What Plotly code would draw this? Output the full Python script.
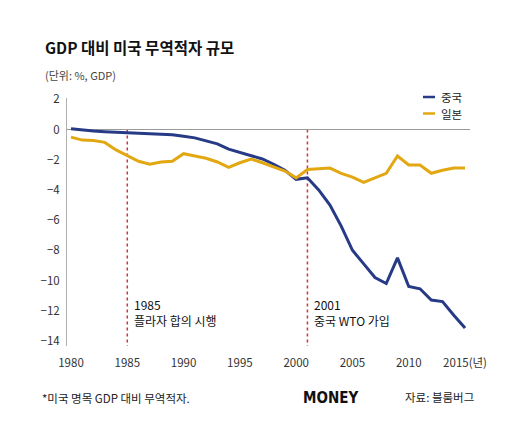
import plotly.graph_objects as go

years = list(range(1980, 2016))
china = [0.05, -0.05, -0.1, -0.15, -0.2, -0.22, -0.25, -0.28, -0.3, -0.35,
         -0.45, -0.55, -0.75, -0.95, -1.3, -1.5, -1.7, -1.95, -2.3, -2.7,
         -3.3, -3.2, -4.0, -5.0, -6.4, -8.0, -8.9, -9.8, -10.2, -8.5,
         -10.4, -10.55, -11.3, -11.4, -12.3, -13.15]
japan = [-0.5, -0.7, -0.73, -0.85, -1.35, -1.75, -2.1, -2.3, -2.15, -2.1,
         -1.6, -1.75, -1.9, -2.15, -2.5, -2.2, -1.95, -2.2, -2.5, -2.75,
         -3.2, -2.65, -2.6, -2.55, -2.9, -3.15, -3.5, -3.2, -2.9, -1.75,
         -2.35, -2.35, -2.9, -2.7, -2.55, -2.55]
series_names = ["중국", "일본"]
x_tick_vals = [1980, 1985, 1990, 1995, 2000, 2005, 2010, 2015]
x_tick_text = ["1980", "1985", "1990", "1995", "2000", "2005", "2010", "2015(년)"]
y_tick_vals = [2, 0, -2, -4, -6, -8, -10, -12, -14]
events = [(1985, "1985", "플라자 합의 시행"), (2001, "2001", "중국 WTO 가입")]

FONT = "Noto Sans CJK KR"
NAVY = "#263a86"
GOLD = "#e2a812"
Y_MIN, Y_MAX = -14.34, 2.09


def px(xr):
    """reference-pixel x -> paper fraction"""
    return (xr - 67) / 403


def py(yr):
    """reference-pixel y -> paper fraction"""
    return (346 - yr) / 248


fig = go.Figure()
colors = [NAVY, GOLD]
for name, vals, col in zip(series_names, [china, japan], colors):
    fig.add_trace(go.Scatter(x=years, y=vals, mode="lines", name=name,
                             line=dict(color=col, width=3), showlegend=False))

for yr, l1, l2 in events:
    fig.add_shape(type="line", xref="x", yref="y", x0=yr, x1=yr, y0=0, y1=Y_MIN,
                  line=dict(color="#d4303c", width=1.5, dash="dot"), layer="below")
    fig.add_annotation(x=yr, y=-12.1, xref="x", yref="y", text=l1 + "<br>" + l2,
                       showarrow=False, xanchor="left", yanchor="middle", xshift=5,
                       align="left", font=dict(family=FONT, size=12, color="#111"))

# legend (manual, compact line samples)
for i, (name, col) in enumerate(zip(series_names, colors)):
    yy = py(97 + 16.5 * i)
    fig.add_shape(type="line", xref="paper", yref="paper", x0=px(423), x1=px(435),
                  y0=yy, y1=yy, line=dict(color=col, width=2.5))
    fig.add_annotation(x=px(439), y=yy, xref="paper", yref="paper", text=name,
                       showarrow=False, xanchor="left", yanchor="middle",
                       font=dict(family=FONT, size=11.5, color="#222"))

fig.update_layout(
    width=520, height=440,
    margin=dict(l=59, r=58, t=90, b=102),
    paper_bgcolor="white", plot_bgcolor="white",
    font=dict(family=FONT, size=11, color="#333"),
    showlegend=False,
    xaxis=dict(range=[1979.645, 2015.44], showgrid=False, zeroline=False, showline=False,
               tickvals=x_tick_vals, ticktext=x_tick_text, ticks="",
               ticklabelstandoff=8, tickfont=dict(family=FONT, size=11.5, color="#333")),
    yaxis=dict(range=[Y_MIN, Y_MAX], showgrid=False, zeroline=True,
               zerolinecolor="#9a9a9a", zerolinewidth=1,
               showline=True, linecolor="#b0b0b0", linewidth=1,
               tickvals=y_tick_vals, ticks="", ticklabelstandoff=4,
               tickfont=dict(family=FONT, size=11.5, color="#333")),
)

fig.add_annotation(x=px(43), y=py(47), xref="paper", yref="paper", text="GDP 대비 미국 무역적자 규모",
                   showarrow=False, xanchor="left", yanchor="middle",
                   font=dict(family=FONT, size=15.5, color="#111", weight=600))
fig.add_annotation(x=px(43), y=py(75), xref="paper", yref="paper", text="(단위: %, GDP)",
                   showarrow=False, xanchor="left", yanchor="middle",
                   font=dict(family=FONT, size=11, color="#444"))
fig.add_annotation(x=px(40), y=py(398), xref="paper", yref="paper", text="*미국 명목 GDP 대비 무역적자.",
                   showarrow=False, xanchor="left", yanchor="middle",
                   font=dict(family=FONT, size=11.5, color="#222"))
fig.add_annotation(x=px(330), y=py(398), xref="paper", yref="paper", text="<b>MONEY</b>",
                   showarrow=False, xanchor="center", yanchor="middle",
                   font=dict(family="DejaVu Sans Condensed", size=15, color="#111"))
fig.add_annotation(x=px(403), y=py(397), xref="paper", yref="paper", text="자료: 블룸버그",
                   showarrow=False, xanchor="left", yanchor="middle",
                   font=dict(family=FONT, size=11.5, color="#222"))

fig.write_html("out.html")
